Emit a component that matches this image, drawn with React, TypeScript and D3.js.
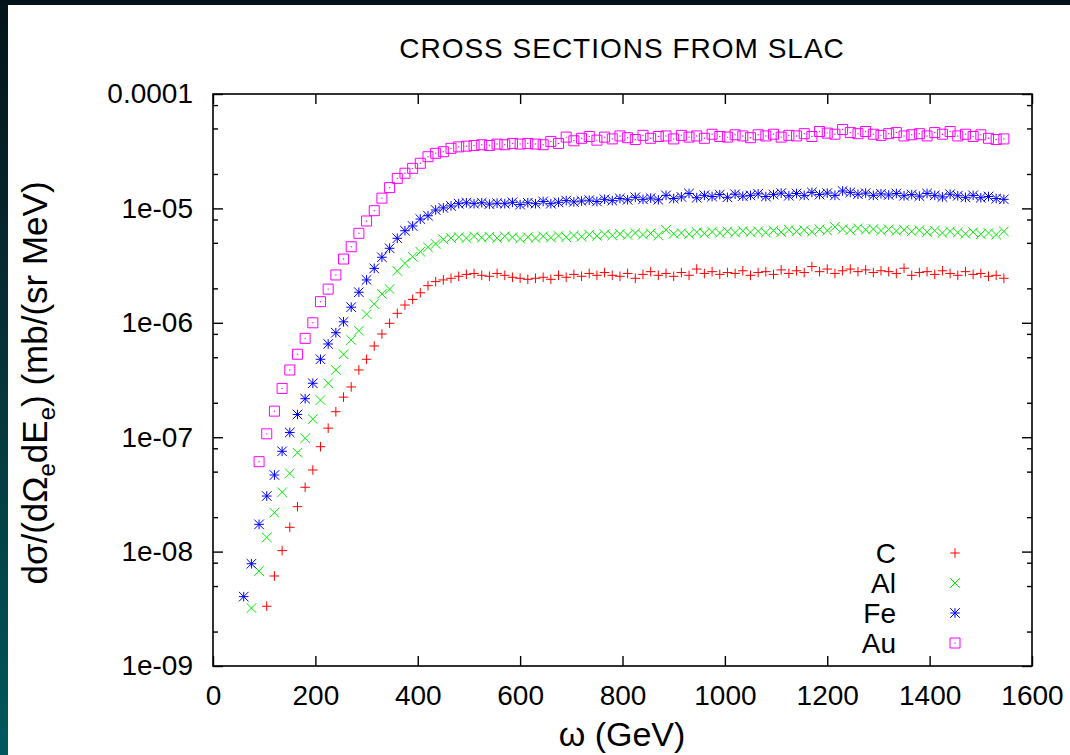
import React, { useEffect, useRef } from 'react'
import * as d3 from 'd3'

// photon energy grid (GeV), shared by all four targets
const omega = [
  60, 75, 90, 105, 120, 135, 150, 165, 180, 195, 210, 225, 240, 255, 270, 285, 300, 315, 330, 345,
  360, 375, 390, 405, 420, 435, 450, 465, 480, 495, 510, 525, 540, 555, 570, 585, 600, 615, 630, 645,
  660, 675, 690, 705, 720, 735, 750, 765, 780, 795, 810, 825, 840, 855, 870, 885, 900, 915, 930, 945,
  960, 975, 990, 1005, 1020, 1035, 1050, 1065, 1080, 1095, 1110, 1125, 1140, 1155, 1170, 1185, 1200, 1215, 1230, 1245,
  1260, 1275, 1290, 1305, 1320, 1335, 1350, 1365, 1380, 1395, 1410, 1425, 1440, 1455, 1470, 1485, 1500, 1515, 1530, 1545,
]

// cross sections, mb/(sr MeV); each series starts at its own first omega
const cStart = 105
const cValues = [
  3.33e-9, 6.12e-9, 1.02e-8, 1.63e-8, 2.47e-8, 3.65e-8, 5.17e-8, 8.26e-8, 1.2e-7, 1.67e-7, 2.24e-7, 2.75e-7,
  3.87e-7, 4.8e-7, 6.27e-7, 7.98e-7, 9.9e-7, 1.21e-6, 1.43e-6, 1.6e-6, 1.83e-6, 2.11e-6, 2.29e-6, 2.37e-6,
  2.45e-6, 2.55e-6, 2.65e-6, 2.7e-6, 2.6e-6, 2.55e-6, 2.7e-6, 2.6e-6, 2.5e-6, 2.45e-6,
  2.4e-6, 2.45e-6, 2.5e-6, 2.4e-6, 2.6e-6, 2.5e-6, 2.65e-6, 2.55e-6, 2.7e-6, 2.6e-6,
  2.75e-6, 2.6e-6, 2.55e-6, 2.7e-6, 2.45e-6, 2.65e-6, 2.8e-6, 2.6e-6, 2.7e-6, 2.55e-6,
  2.75e-6, 2.6e-6, 2.95e-6, 2.7e-6, 2.8e-6, 2.65e-6, 2.75e-6, 2.7e-6, 2.85e-6, 2.6e-6,
  2.75e-6, 2.8e-6, 2.65e-6, 2.9e-6, 2.7e-6, 2.85e-6, 2.75e-6, 3.1e-6, 2.8e-6, 2.95e-6,
  2.7e-6, 2.85e-6, 2.95e-6, 2.8e-6, 2.9e-6, 2.75e-6, 2.85e-6, 2.8e-6, 2.7e-6, 3.0e-6,
  2.6e-6, 2.75e-6, 2.8e-6, 2.65e-6, 2.85e-6, 2.7e-6, 2.6e-6, 2.8e-6, 2.65e-6, 2.7e-6, 2.55e-6, 2.6e-6, 2.45e-6,
]

const alStart = 75
const alValues = [
  3.21e-9, 6.76e-9, 1.33e-8, 2.19e-8, 3.3e-8, 4.83e-8, 7.32e-8, 9.78e-8, 1.44e-7, 2.11e-7, 2.96e-7, 3.87e-7, 5.31e-7,
  7.08e-7, 8.53e-7, 1.19e-6, 1.46e-6, 1.79e-6, 1.97e-6, 2.84e-6, 3.31e-6, 3.78e-6, 4.18e-6, 4.57e-6, 4.89e-6, 5.37e-6,
  5.5e-6, 5.6e-6, 5.5e-6, 5.7e-6, 5.55e-6, 5.65e-6, 5.5e-6, 5.7e-6, 5.6e-6, 5.45e-6,
  5.6e-6, 5.5e-6, 5.7e-6, 5.55e-6, 5.75e-6, 5.6e-6, 5.8e-6, 5.65e-6, 5.9e-6, 5.75e-6,
  5.95e-6, 5.8e-6, 6.0e-6, 5.85e-6, 6.1e-6, 5.9e-6, 6.05e-6, 5.8e-6, 6.5e-6, 6.0e-6,
  6.1e-6, 5.95e-6, 6.2e-6, 6.05e-6, 6.25e-6, 6.1e-6, 6.3e-6, 6.15e-6, 6.35e-6, 6.2e-6,
  6.3e-6, 6.15e-6, 6.4e-6, 6.2e-6, 6.5e-6, 6.3e-6, 6.45e-6, 6.25e-6, 6.55e-6, 6.4e-6,
  6.9e-6, 6.6e-6, 6.45e-6, 6.7e-6, 6.5e-6, 6.6e-6, 6.4e-6, 6.55e-6, 6.35e-6, 6.5e-6,
  6.3e-6, 6.45e-6, 6.2e-6, 6.4e-6, 6.1e-6, 6.3e-6, 6.15e-6, 6.0e-6, 6.2e-6, 5.95e-6, 6.1e-6, 5.9e-6, 6.3e-6,
]

const feStart = 60
const feValues = [
  4.04e-9, 7.83e-9, 1.73e-8, 3.06e-8, 4.67e-8, 7.53e-8, 1.1e-7, 1.58e-7, 2.17e-7, 2.96e-7, 4.8e-7, 6.53e-7, 8.19e-7, 1.02e-6,
  1.37e-6, 1.85e-6, 2.37e-6, 2.99e-6, 3.74e-6, 4.48e-6, 5.48e-6, 6.38e-6, 7.02e-6, 8.07e-6, 8.63e-6, 9.68e-6, 1.01e-5,
  1.05e-5, 1.1e-5, 1.12e-5, 1.1e-5, 1.12e-5, 1.09e-5, 1.11e-5, 1.1e-5, 1.13e-5, 1.08e-5,
  1.12e-5, 1.1e-5, 1.15e-5, 1.1e-5, 1.13e-5, 1.17e-5, 1.14e-5, 1.16e-5, 1.18e-5, 1.15e-5,
  1.2e-5, 1.17e-5, 1.22e-5, 1.19e-5, 1.25e-5, 1.2e-5, 1.23e-5, 1.19e-5, 1.3e-5, 1.22e-5,
  1.26e-5, 1.35e-5, 1.24e-5, 1.3e-5, 1.27e-5, 1.32e-5, 1.25e-5, 1.33e-5, 1.28e-5, 1.3e-5,
  1.34e-5, 1.27e-5, 1.32e-5, 1.36e-5, 1.29e-5, 1.35e-5, 1.3e-5, 1.38e-5, 1.32e-5, 1.36e-5,
  1.3e-5, 1.42e-5, 1.38e-5, 1.33e-5, 1.36e-5, 1.3e-5, 1.34e-5, 1.31e-5, 1.35e-5, 1.29e-5,
  1.32e-5, 1.28e-5, 1.35e-5, 1.3e-5, 1.26e-5, 1.33e-5, 1.29e-5, 1.25e-5, 1.3e-5, 1.24e-5, 1.27e-5, 1.22e-5, 1.2e-5,
]

const auStart = 90
const auValues = [
  6.11e-8, 1.07e-7, 1.69e-7, 2.67e-7, 3.87e-7, 5.31e-7, 7.31e-7, 1.0e-6, 1.53e-6, 1.97e-6, 2.62e-6, 3.61e-6, 4.62e-6,
  6.06e-6, 7.76e-6, 9.55e-6, 1.23e-5, 1.52e-5, 1.83e-5, 2.03e-5, 2.24e-5, 2.48e-5, 2.83e-5, 3.03e-5, 3.13e-5,
  3.35e-5, 3.45e-5, 3.5e-5, 3.55e-5, 3.6e-5, 3.55e-5, 3.65e-5, 3.6e-5, 3.7e-5, 3.65e-5,
  3.7e-5, 3.65e-5, 3.6e-5, 3.85e-5, 3.7e-5, 4.2e-5, 3.9e-5, 4.1e-5, 4.25e-5, 3.95e-5,
  4.2e-5, 4.05e-5, 4.3e-5, 4.15e-5, 4.0e-5, 4.35e-5, 4.1e-5, 4.25e-5, 4.3e-5, 4.05e-5,
  4.35e-5, 4.2e-5, 4.3e-5, 4.1e-5, 4.45e-5, 4.25e-5, 4.2e-5, 4.4e-5, 4.3e-5, 4.15e-5,
  4.4e-5, 4.3e-5, 4.45e-5, 4.2e-5, 4.35e-5, 4.3e-5, 4.5e-5, 4.25e-5, 4.7e-5, 4.55e-5,
  4.45e-5, 4.9e-5, 4.6e-5, 4.5e-5, 4.7e-5, 4.45e-5, 4.35e-5, 4.5e-5, 4.6e-5, 4.3e-5,
  4.4e-5, 4.5e-5, 4.3e-5, 4.6e-5, 4.45e-5, 4.7e-5, 4.3e-5, 4.45e-5, 4.25e-5, 4.4e-5, 4.1e-5, 4.0e-5, 4.05e-5,
]

const seriesNames = ['C', 'Al', 'Fe', 'Au']
const seriesColors = ['#ff0000', '#00ee00', '#0000ff', '#ff00ff']
const seriesMarkers = ['plus', 'cross', 'star', 'square']

const xTicks = [0, 200, 400, 600, 800, 1000, 1200, 1400, 1600]
const yTicks = [1e-9, 1e-8, 1e-7, 1e-6, 1e-5, 1e-4]
const yTickLabels = ['1e-09', '1e-08', '1e-07', '1e-06', '1e-05', '0.0001']
const minorFactors = [2, 5, 8]

const W = 1070
const H = 755
const FONT = '"Liberation Sans", Arial, Helvetica, sans-serif'

function App() {
  const ref = useRef<SVGSVGElement>(null)

  useEffect(() => {
    const svg = d3.select(ref.current)
    svg.selectAll('*').remove()

    // dark frame round the white page
    const grad = svg.append('defs').append('linearGradient')
      .attr('id', 'edge').attr('x1', 0).attr('y1', 0).attr('x2', 0).attr('y2', 1)
    grad.append('stop').attr('offset', '0%').attr('stop-color', '#03141a')
    grad.append('stop').attr('offset', '35%').attr('stop-color', '#062a30')
    grad.append('stop').attr('offset', '100%').attr('stop-color', '#00585c')
    svg.append('rect').attr('width', W).attr('height', H).attr('fill', '#02131a')
    svg.append('rect').attr('y', 5).attr('width', 8).attr('height', H - 5).attr('fill', 'url(#edge)')
    svg.append('rect').attr('x', 8).attr('y', 5).attr('width', W - 8).attr('height', H - 5).attr('fill', '#fff')

    const left = 213, right = 1032, top = 94, bottom = 666

    const x = d3.scaleLinear().domain([0, 1600]).range([left, right])
    const y = d3.scaleLog().domain([1e-9, 1e-4]).range([bottom, top])

    const minorTicks: number[] = []
    for (let k = 0; k < yTicks.length - 1; k++) {
      for (const f of minorFactors) minorTicks.push(yTicks[k] * f)
    }

    const styleAxis = (g: any) => {
      g.select('.domain').remove()
      g.selectAll('line').attr('stroke', '#000').attr('stroke-width', 1.4)
      g.selectAll('text').attr('font-size', 28).attr('font-family', FONT).attr('fill', '#000')
    }

    // y axes, ticks pointing inward
    svg.append('g').attr('transform', `translate(${left},0)`)
      .call(d3.axisLeft(y).tickValues(yTicks).tickSize(-10).tickPadding(20)
        .tickFormat((d, i) => yTickLabels[i]))
      .call(styleAxis)
    svg.append('g').attr('transform', `translate(${left},0)`)
      .call(d3.axisLeft(y).tickValues(minorTicks).tickSize(-5).tickFormat(() => ''))
      .call(styleAxis)
    svg.append('g').attr('transform', `translate(${right},0)`)
      .call(d3.axisRight(y).tickValues(yTicks).tickSize(-10).tickFormat(() => ''))
      .call(styleAxis)
    svg.append('g').attr('transform', `translate(${right},0)`)
      .call(d3.axisRight(y).tickValues(minorTicks).tickSize(-5).tickFormat(() => ''))
      .call(styleAxis)

    // x axes
    svg.append('g').attr('transform', `translate(0,${bottom})`)
      .call(d3.axisBottom(x).tickValues(xTicks).tickSize(-10).tickPadding(19)
        .tickFormat(d => String(d)))
      .call(styleAxis)
    svg.append('g').attr('transform', `translate(0,${top})`)
      .call(d3.axisTop(x).tickValues(xTicks).tickSize(-10).tickFormat(() => ''))
      .call(styleAxis)

    svg.append('rect')
      .attr('x', left).attr('y', top)
      .attr('width', right - left).attr('height', bottom - top)
      .attr('fill', 'none').attr('stroke', '#000').attr('stroke-width', 1.6)

    const markerPath: Record<string, string> = {
      plus: 'M-4.8,0H4.8M0,-4.8V4.8',
      cross: 'M-4.8,-4.8L4.8,4.8M-4.8,4.8L4.8,-4.8',
      star: 'M-4.8,0H4.8M0,-4.8V4.8M-4.8,-4.8L4.8,4.8M-4.8,4.8L4.8,-4.8',
      square: 'M-5,-5H5V5H-5Z',
    }

    const drawMarker = (g: any, kind: string, color: string) => {
      g.append('path').attr('d', markerPath[kind])
        .attr('fill', 'none').attr('stroke', color).attr('stroke-width', 1)
      if (kind === 'square') {
        g.append('circle').attr('r', 0.7).attr('fill', color)
      }
    }

    const series = [
      { start: cStart, values: cValues },
      { start: alStart, values: alValues },
      { start: feStart, values: feValues },
      { start: auStart, values: auValues },
    ]

    const plot = svg.append('g')
    series.forEach((s, si) => {
      const offset = omega.indexOf(s.start)
      const pts = s.values.map((v, i) => ({ w: omega[offset + i], v }))
      plot.append('g')
        .selectAll('g')
        .data(pts)
        .join('g')
        .attr('transform', d => `translate(${x(d.w)},${y(d.v)})`)
        .each(function () {
          drawMarker(d3.select(this), seriesMarkers[si], seriesColors[si])
        })
    })

    // legend
    const legend = svg.append('g')
    seriesNames.forEach((name, i) => {
      const cy = 553 + i * 30
      legend.append('text')
        .attr('x', 896).attr('y', cy + 10)
        .attr('text-anchor', 'end')
        .attr('font-size', 28).attr('font-family', FONT)
        .text(name)
      drawMarker(legend.append('g').attr('transform', `translate(955,${cy})`), seriesMarkers[i], seriesColors[i])
    })

    // titles
    svg.append('text')
      .attr('x', 622).attr('y', 58)
      .attr('text-anchor', 'middle')
      .attr('font-size', 28).attr('font-family', FONT)
      .attr('letter-spacing', 1)
      .text('CROSS SECTIONS FROM SLAC')

    svg.append('text')
      .attr('x', 622).attr('y', 746)
      .attr('text-anchor', 'middle')
      .attr('font-size', 34).attr('font-family', FONT)
      .text('ω (GeV)')

    const yl = svg.append('text')
      .attr('transform', 'translate(47,383) rotate(-90)')
      .attr('text-anchor', 'middle')
      .attr('font-size', 35).attr('font-family', FONT)
    yl.append('tspan').text('dσ/(dΩ')
    yl.append('tspan').attr('font-size', 24).attr('dy', 8).text('e')
    yl.append('tspan').attr('dy', -8).text('dE')
    yl.append('tspan').attr('font-size', 24).attr('dy', 8).text('e')
    yl.append('tspan').attr('dy', -8).text(') (mb/(sr MeV)')
  }, [])

  return (
    <svg ref={ref} width={W} height={H} style={{ position: 'absolute', left: 0, top: 0 }} />
  )
}

export default App
